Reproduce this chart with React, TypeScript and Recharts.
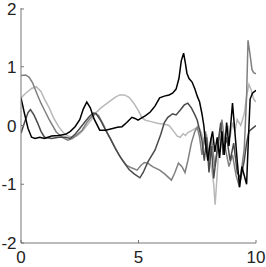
import React from 'react';
import { LineChart, Line, XAxis, YAxis } from 'recharts';

const xTicks = [0, 5, 10];
const yTicks = [-2, -1, 0, 1, 2];

// [x, y] samples
const blackSeries: [number, number][] = [
  [0, 0.47], [0.15, 0.2], [0.3, -0.05], [0.45, -0.2], [0.6, -0.22], [0.8, -0.2], [1.0, -0.22], [1.3, -0.18],
  [1.6, -0.17], [1.9, -0.15], [2.1, -0.1], [2.3, -0.02], [2.5, 0.1], [2.65, 0.28], [2.8, 0.4], [2.95, 0.3],
  [3.1, 0.12], [3.35, -0.08], [3.6, -0.08], [3.9, -0.05], [4.1, -0.03], [4.3, -0.02], [4.5, 0.05], [4.72, 0.14],
  [4.85, 0.12], [4.98, 0.09], [5.1, 0.12], [5.3, 0.17], [5.5, 0.23], [5.7, 0.33], [5.9, 0.47], [6.1, 0.5],
  [6.3, 0.52], [6.45, 0.55], [6.6, 0.62], [6.72, 0.8], [6.82, 1.1], [6.92, 1.23], [7.0, 1.05], [7.06, 0.89],
  [7.15, 0.8], [7.28, 0.74], [7.4, 0.62], [7.5, 0.5], [7.6, 0.4], [7.7, 0.2], [7.78, 0.0], [7.85, -0.3],
  [7.95, -0.6], [8.05, -0.3], [8.15, -0.1], [8.25, -0.45], [8.35, -0.2], [8.45, -0.55], [8.55, -0.1], [8.65, -0.5],
  [8.75, 0.05], [8.85, -0.35], [9.0, 0.38], [9.1, -0.1], [9.2, -0.6], [9.3, -1.05], [9.4, -0.7], [9.5, -0.85],
  [9.6, -1.0], [9.68, -0.2], [9.75, 0.45], [9.85, 0.55], [10, 0.6],
];

const darkSeries: [number, number][] = [
  [0, -0.13], [0.15, 0.05], [0.3, 0.22], [0.4, 0.27], [0.55, 0.18], [0.7, 0.05], [0.85, -0.1], [1.0, -0.2],
  [1.3, -0.22], [1.6, -0.2], [1.9, -0.2], [2.1, -0.22], [2.3, -0.15], [2.5, -0.05], [2.7, 0.05], [2.9, 0.15],
  [3.07, 0.21], [3.2, 0.2], [3.4, 0.08], [3.6, -0.08], [3.8, -0.22], [4.0, -0.38], [4.2, -0.52], [4.4, -0.64],
  [4.6, -0.75], [4.8, -0.82], [5.06, -0.89], [5.2, -0.8], [5.4, -0.62], [5.7, -0.42], [5.95, -0.15], [6.1, 0.05],
  [6.25, 0.14], [6.45, 0.2], [6.6, 0.18], [6.77, 0.26], [6.95, 0.35], [7.1, 0.38], [7.25, 0.3], [7.4, 0.18],
  [7.5, 0.09], [7.7, -0.25], [7.8, -0.6], [7.9, -0.2], [8.0, -0.8], [8.1, -0.35], [8.2, -0.9], [8.35, -0.4],
  [8.5, 0.05], [8.6, -0.5], [8.75, -0.2], [8.9, -0.6], [9.05, -0.3], [9.2, -0.8], [9.35, -0.9], [9.5, -0.6],
  [9.6, -0.3], [9.7, -0.1], [9.85, -0.05], [10, 0.0],
];

const midSeries: [number, number][] = [
  [0, 0.85], [0.2, 0.86], [0.35, 0.82], [0.5, 0.72], [0.7, 0.52], [0.85, 0.38], [1.0, 0.26], [1.2, 0.1],
  [1.5, -0.11], [1.75, -0.2], [2.0, -0.25], [2.2, -0.22], [2.4, -0.15], [2.6, -0.08], [2.8, 0.05], [3.0, 0.15],
  [3.15, 0.21], [3.3, 0.17], [3.5, 0.02], [3.7, -0.15], [3.9, -0.3], [4.1, -0.45], [4.3, -0.58], [4.5, -0.68],
  [4.7, -0.72], [4.94, -0.76], [5.1, -0.68], [5.25, -0.63], [5.4, -0.64], [5.6, -0.7], [5.9, -0.76], [6.1, -0.82],
  [6.4, -0.93], [6.55, -0.8], [6.7, -0.64], [6.85, -0.7], [6.98, -0.8], [7.1, -0.6], [7.25, -0.3], [7.4, -0.1],
  [7.5, -0.03], [7.6, -0.2], [7.7, -0.5], [7.85, -0.1], [8.0, -0.6], [8.1, -0.2], [8.25, -0.7], [8.4, -0.3],
  [8.55, 0.1], [8.7, -0.4], [8.85, -0.7], [9.0, -0.5], [9.15, -0.85], [9.3, -1.05], [9.4, -0.7], [9.5, -0.4],
  [9.6, 0.5], [9.66, 1.45], [9.75, 1.2], [9.83, 0.95], [9.9, 0.9], [10, 0.88],
];

const lightSeries: [number, number][] = [
  [0, 0.47], [0.2, 0.55], [0.45, 0.63], [0.65, 0.66], [0.85, 0.58], [1.0, 0.45], [1.2, 0.3], [1.4, 0.12],
  [1.6, -0.02], [1.8, -0.12], [2.0, -0.18], [2.2, -0.2], [2.4, -0.17], [2.6, -0.1], [2.8, 0.0], [3.0, 0.1],
  [3.2, 0.22], [3.4, 0.3], [3.6, 0.36], [3.8, 0.42], [4.0, 0.48], [4.2, 0.52], [4.4, 0.52], [4.6, 0.48],
  [4.8, 0.38], [5.0, 0.25], [5.15, 0.13], [5.3, 0.09], [5.5, 0.07], [5.8, 0.04], [6.1, 0.02], [6.3, 0.0],
  [6.5, -0.1], [6.65, -0.18], [6.77, -0.2], [6.9, -0.14], [7.0, -0.17], [7.1, -0.12], [7.3, -0.08], [7.5, -0.03],
  [7.6, -0.05], [7.7, -0.15], [7.8, -0.3], [7.9, -0.15], [8.0, -0.5], [8.1, -0.7], [8.2, -1.0], [8.26, -1.35],
  [8.32, -1.0], [8.4, -0.5], [8.5, -0.2], [8.6, -0.1], [8.7, -0.3], [8.8, 0.0], [8.9, -0.2], [9.0, 0.05],
  [9.1, -0.1], [9.2, 0.1], [9.35, 0.0], [9.5, 0.2], [9.6, 0.5], [9.7, 0.7], [9.8, 0.6], [9.9, 0.45], [10, 0.4],
];

const toData = (s: [number, number][]) => s.map(([x, y]) => ({ x, y }));

const FONT = '"Liberation Sans", Arial, Helvetica, sans-serif';
const AXIS = '#777';
const TICK_LEN = 3;

const BottomTick = (p: any) => (
  <g>
    <line x1={p.x} x2={p.x} y1={p.y} y2={p.y - TICK_LEN} stroke={AXIS} strokeWidth={1} />
    <text x={p.x} y={p.y + 20} textAnchor="middle" fontFamily={FONT} fontSize={17} fill="#222">
      {p.payload.value}
    </text>
  </g>
);

const LeftTick = (p: any) => (
  <g>
    <line x1={p.x} x2={p.x + TICK_LEN} y1={p.y} y2={p.y} stroke={AXIS} strokeWidth={1} />
    <text x={p.x - 4.5} y={p.y + 6} textAnchor="end" fontFamily={FONT} fontSize={17} fill="#222">
      {p.payload.value}
    </text>
  </g>
);

const TopTick = (p: any) => (
  <line x1={p.x} x2={p.x} y1={p.y} y2={p.y + TICK_LEN} stroke={AXIS} strokeWidth={1} />
);

const RightTick = (p: any) => (
  <line x1={p.x} x2={p.x - TICK_LEN} y1={p.y} y2={p.y} stroke={AXIS} strokeWidth={1} />
);

export default function App() {
  return (
    <div style={{ position: 'absolute', left: 0, top: 0, width: 266, height: 267, background: '#fff' }}>
      <LineChart width={266} height={267} margin={{ top: 8, right: 10, bottom: 0, left: 0 }}>
        <XAxis
          xAxisId="b"
          dataKey="x"
          type="number"
          domain={[0, 10]}
          ticks={xTicks}
          allowDataOverflow
          height={24}
          tickSize={0}
          tickMargin={0}
          tickLine={false}
          axisLine={{ stroke: AXIS, strokeWidth: 1 }}
          tick={BottomTick}
        />
        <XAxis
          xAxisId="t"
          orientation="top"
          dataKey="x"
          type="number"
          domain={[0, 10]}
          ticks={xTicks}
          allowDataOverflow
          height={0}
          tickSize={0}
          tickMargin={0}
          tickLine={false}
          axisLine={{ stroke: AXIS, strokeWidth: 1 }}
          tick={TopTick}
        />
        <YAxis
          yAxisId="l"
          type="number"
          domain={[-2, 2]}
          ticks={yTicks}
          allowDataOverflow
          width={21}
          tickSize={0}
          tickMargin={0}
          tickLine={false}
          axisLine={{ stroke: AXIS, strokeWidth: 1 }}
          tick={LeftTick}
        />
        <YAxis
          yAxisId="r"
          orientation="right"
          type="number"
          domain={[-2, 2]}
          ticks={yTicks}
          allowDataOverflow
          width={0}
          tickSize={0}
          tickMargin={0}
          tickLine={false}
          axisLine={{ stroke: AXIS, strokeWidth: 1 }}
          tick={RightTick}
        />
        <Line xAxisId="b" yAxisId="l" data={toData(lightSeries)} dataKey="y" type="linear" stroke="#b8b8b8" strokeWidth={1.5} dot={false} isAnimationActive={false} />
        <Line xAxisId="b" yAxisId="l" data={toData(midSeries)} dataKey="y" type="linear" stroke="#808080" strokeWidth={1.5} dot={false} isAnimationActive={false} />
        <Line xAxisId="b" yAxisId="l" data={toData(darkSeries)} dataKey="y" type="linear" stroke="#4a4a4a" strokeWidth={1.5} dot={false} isAnimationActive={false} />
        <Line xAxisId="b" yAxisId="l" data={toData(blackSeries)} dataKey="y" type="linear" stroke="#000" strokeWidth={1.5} dot={false} isAnimationActive={false} />
      </LineChart>
    </div>
  );
}
